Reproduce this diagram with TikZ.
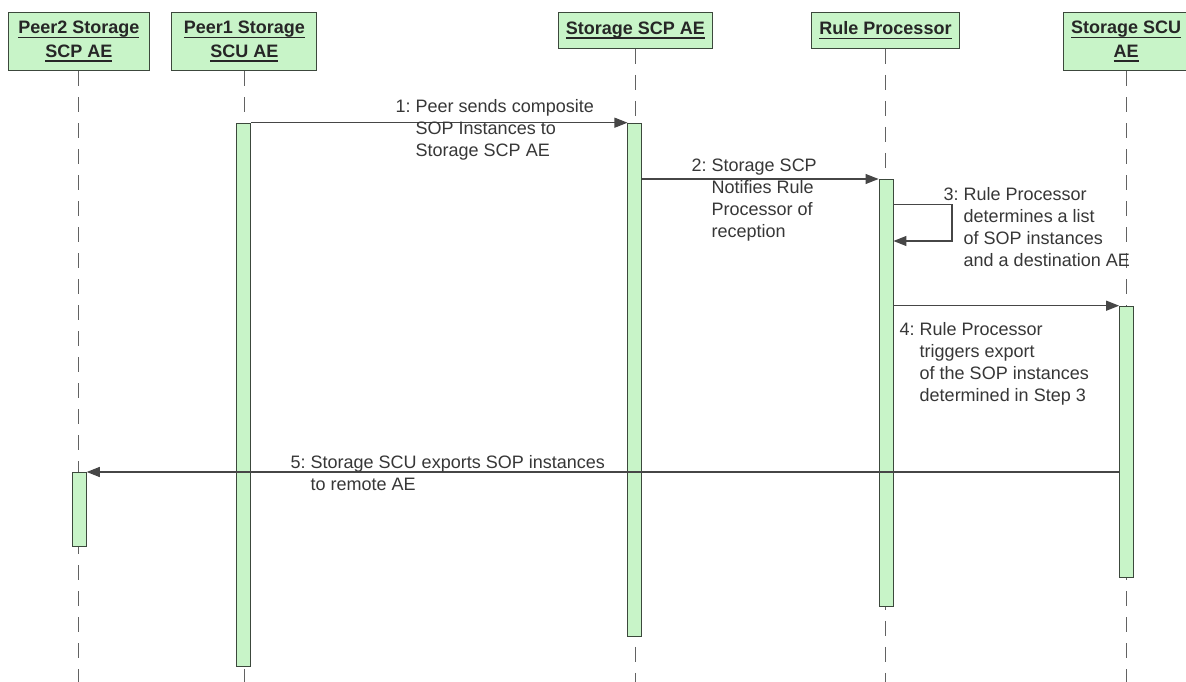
\documentclass[tikz,border=0pt]{standalone}
\usepackage{fontspec}
\setmainfont{Liberation Sans}
\usetikzlibrary{arrows.meta}
\definecolor{barfill}{RGB}{200,244,200}
\definecolor{edge}{RGB}{60,72,60}
\definecolor{ink}{RGB}{55,55,55}
\definecolor{wire}{RGB}{70,70,70}
% underline a whole line of header text at a fixed depth
\newcommand{\hdul}[1]{\setbox0\hbox{#1}\rlap{\rule[-4.3pt]{\wd0}{1.3pt}}\box0}
\begin{document}
\begin{tikzpicture}[x=1pt,y=-1pt,
  head/.style={draw=edge, fill=barfill, line width=1pt, align=center, inner sep=0pt,
    text=black!85, font=\bfseries\fontsize{18}{23.4}\selectfont},
  lifeline/.style={draw=wire!85, line width=0.9pt, dash pattern=on 15pt off 11pt},
  actbar/.style={draw=edge, fill=barfill, line width=0.9pt, minimum width=14pt,
    inner sep=0pt, anchor=north},
  msg/.style={draw=wire, line width=1.2pt, -{Triangle[length=13pt,width=10pt]}},
  note/.style={anchor=base west, inner sep=0pt, text=ink, font=\fontsize{18}{22}\selectfont}]

\useasboundingbox (0,0) rectangle (1186,682);
\fill[white] (0,0) rectangle (1186,682);

% participants
\node[head, minimum width=141pt, minimum height=58.4pt] (p2) at (78.8,41.5)
  {\hdul{Peer2 Storage}\\\hdul{SCP AE}};
\node[head, minimum width=145pt, minimum height=58.4pt] (p1) at (244.4,41.5)
  {\hdul{Peer1 Storage}\\\hdul{SCU AE}};
\node[head, minimum width=154.4pt, minimum height=36pt] (scp) at (635.3,30.3)
  {\hdul{Storage SCP AE}};
\node[head, minimum width=148.6pt, minimum height=36pt] (rp) at (885.5,30.3)
  {\hdul{Rule Processor}};
\node[head, minimum width=125.4pt, minimum height=58.4pt] (scu) at (1126,41.5)
  {\hdul{Storage SCU}\\\hdul{AE}};

% lifelines
\coordinate (p2end)  at (p2.south  |- 0,682);
\coordinate (p1end)  at (p1.south  |- 0,682);
\coordinate (scpend) at (scp.south |- 0,682);
\coordinate (rpend)  at (rp.south  |- 0,682);
\coordinate (scuend) at (scu.south |- 0,682);
\draw[lifeline] (p2.south)  -- (p2end);
\draw[lifeline] (p1.south)  -- (p1end);
\draw[lifeline] (scp.south) -- (scpend);
\draw[lifeline] (rp.south)  -- (rpend);
\draw[lifeline] (scu.south) -- (scuend);

% activation bars
\node[actbar, minimum height=74pt]    (b0) at (79.3,472) {};
\node[actbar, minimum height=543.3pt] (b1) at (243.8,122.7) {};
\node[actbar, minimum height=513.3pt] (b2) at (634.9,122.7) {};
\node[actbar, minimum height=427pt]   (b3) at (886,179) {};
\node[actbar, minimum height=271.3pt] (b4) at (1126.6,305.7) {};

% messages
\draw[msg] (b1.north east) -- (b2.north west);
\draw[msg] (b2.east |- b3.north) -- (b3.north west);
\coordinate (s3a) at (b3.east |- 0,204.3);
\coordinate (s3b) at (b3.east |- 0,241);
\draw[msg] (s3a) -- ++(58.5,0) |- (s3b);
\draw[msg] (b3.east |- b4.north) -- (b4.north west);
\draw[msg] (b4.west |- b0.north) -- (b0.north east);

% message labels
\node[note] (m1) at (395.5,112.7) {1:~\begin{tabular}[t]{@{}l@{}}Peer sends composite\\SOP Instances to\\Storage SCP AE\end{tabular}};
\node[note] (m2) at (691.5,171.7) {2:~\begin{tabular}[t]{@{}l@{}}Storage SCP\\Notifies Rule\\Processor of\\reception\end{tabular}};
\node[note] (m3) at (943.5,200.7) {3:~\begin{tabular}[t]{@{}l@{}}Rule Processor\\determines a list\\of SOP instances\\and a destination AE\end{tabular}};
\node[note] (m4) at (899.5,335) {4:~\begin{tabular}[t]{@{}l@{}}Rule Processor\\triggers export\\of the SOP instances\\determined in Step 3\end{tabular}};
\node[note] (m5) at (290.5,468) {5:~\begin{tabular}[t]{@{}l@{}}Storage SCU exports SOP instances\\to remote AE\end{tabular}};
\end{tikzpicture}
\end{document}
